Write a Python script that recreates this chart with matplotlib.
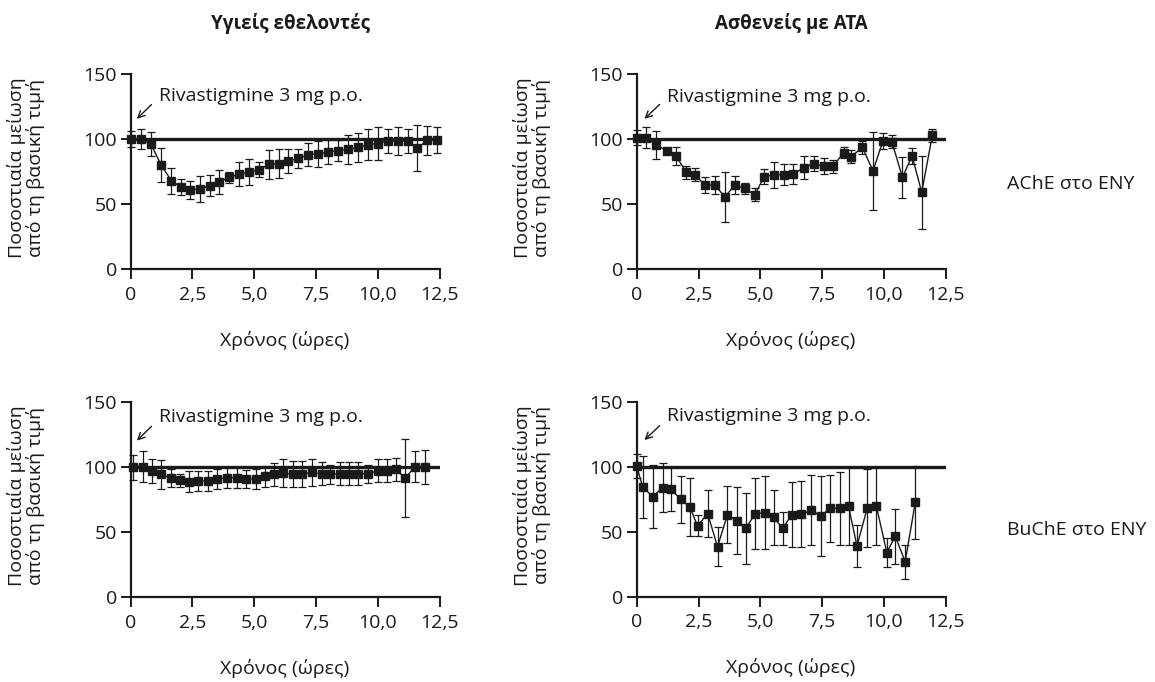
import matplotlib
matplotlib.use("Agg")
import matplotlib.pyplot as plt


# Υγιείς εθελοντές - AChE
t_healthy_ache = [0, 0.43, 0.82, 1.23, 1.64, 2.03, 2.4, 2.81, 3.19, 3.58, 3.99, 4.4, 4.8, 5.19, 5.6, 6.01,
                  6.36, 6.78, 7.19, 7.58, 7.99, 8.38, 8.8, 9.2, 9.59, 9.99, 10.4, 10.8, 11.2, 11.6, 12.0, 12.4]
v_healthy_ache = [100, 100, 96, 80, 68, 63, 61, 61.5, 64, 67, 70.5, 73, 74.5, 76.5, 80.5, 81,
                  83, 85, 88, 88.5, 90, 91, 92, 93.5, 95.5, 96.5, 98.5, 98.5, 98.5, 93, 99, 99.5]
e_healthy_ache = [6, 8, 9, 13, 10, 6, 7, 10, 8, 9, 4, 9, 10, 6, 11, 11,
                  9, 7, 9, 10, 9, 8, 11, 11, 12, 13, 9, 11, 9, 18, 11, 10]

# Ασθενείς με ΑΤΑ - AChE
t_patients_ache = [0, 0.38, 0.78, 1.21, 1.59, 2.0, 2.36, 2.76, 3.16, 3.57, 3.97, 4.37, 4.78, 5.15, 5.56, 5.95,
                   6.34, 6.76, 7.16, 7.56, 7.94, 8.37, 8.68, 9.13, 9.56, 9.96, 10.32, 10.75, 11.14, 11.53, 11.96]
v_patients_ache = [101, 101, 95.5, 91, 87, 74.5, 72.5, 64.5, 64.5, 55.5, 64.5, 62, 57, 71, 72.5, 72.5,
                   73, 78, 81, 79, 79, 89.5, 86.5, 93.5, 75.5, 98.5, 98, 70.5, 87, 59, 103]
e_patients_ache = [6, 8, 11, 1, 7, 5, 5, 6, 7, 19, 7, 4, 5, 6, 10, 8,
                   8, 9, 6, 6, 5, 4, 5, 5, 30, 6, 5, 16, 6, 28, 5]

# Υγιείς εθελοντές - BuChE
t_healthy_buche = [0.1, 0.49, 0.85, 1.23, 1.62, 2.0, 2.36, 2.73, 3.14, 3.51, 3.9, 4.3, 4.66, 5.07, 5.42, 5.8,
                   6.18, 6.57, 6.93, 7.32, 7.72, 8.08, 8.46, 8.82, 9.2, 9.61, 10.0, 10.38, 10.72, 11.1, 11.5, 11.89]
v_healthy_buche = [100, 100.5, 97, 94.5, 92, 90, 89, 89.5, 89.5, 91, 92, 92, 91, 91, 93, 94.5,
                   95.5, 94.5, 95, 96, 95, 94.5, 95, 95, 95, 95, 97.5, 97.5, 98.5, 91.5, 100.5, 100.5]
e_healthy_buche = [9.5, 12, 9, 11, 7, 5, 8, 7.5, 7.5, 7.5, 8, 8, 7, 7.5, 8, 9,
                   11, 10, 10, 10.5, 9, 7, 9, 9, 9, 7, 9, 8.5, 9, 30, 12, 13]

# Ασθενείς με ΑΤΑ - BuChE
t_patients_buche = [0, 0.24, 0.65, 1.05, 1.37, 1.78, 2.15, 2.46, 2.87, 3.27, 3.67, 4.04, 4.41, 4.8, 5.18, 5.55,
                    5.9, 6.27, 6.66, 7.07, 7.44, 7.83, 8.21, 8.57, 8.91, 9.33, 9.69, 10.12, 10.46, 10.86, 11.27]
v_patients_buche = [100.5, 84.5, 77, 84, 83, 75, 69, 54.5, 64, 38.5, 63, 58.5, 52.5, 64, 64.5, 61,
                    52.5, 63, 63.5, 66.5, 62, 68, 68, 69.5, 39, 68.5, 70, 34, 46.5, 27, 72.5]
e_patients_buche = [9.5, 24, 24, 19, 17, 18, 22, 8, 18, 15, 22, 26, 27, 27, 28, 21,
                    13, 25, 25.5, 27, 31, 26, 28, 30, 16, 30, 30, 11, 21, 13, 28]

col_titles = ["Υγιείς εθελοντές", "Ασθενείς με ΑΤΑ"]
row_labels = ["AChE στο ENY", "BuChE στο ENY"]
x_ticks = [0, 2.5, 5.0, 7.5, 10.0, 12.5]
x_tick_labels = ["0", "2,5", "5,0", "7,5", "10,0", "12,5"]
y_ticks = [0, 50, 100, 150]
ylabel = "Ποσοστιαία μείωση\nαπό τη βασική τιμή"
xlabel = "Χρόνος (ώρες)"
note = "Rivastigmine 3 mg p.o."

W, H = 1155, 682
INK = '#1a1a1a'


def fx(px):
    return px / W


def fy(py):
    return 1 - py / H


def main():
    plt.rcParams['font.family'] = ['Open Sans', 'DejaVu Sans']
    fig = plt.figure(figsize=(11.55, 6.82), dpi=100)

    panels = [
        (t_healthy_ache, v_healthy_ache, e_healthy_ache, 130.7, 269.0, (0.17, 114, 0.92, 128, 1.16, 133)),
        (t_patients_ache, v_patients_ache, e_patients_ache, 636.7, 269.0, (0.23, 114, 1.01, 128, 1.21, 132)),
        (t_healthy_buche, v_healthy_buche, e_healthy_buche, 130.7, 597.3, (0.17, 119, 0.92, 133, 1.16, 138.5)),
        (t_patients_buche, v_patients_buche, e_patients_buche, 636.7, 596.7, (0.23, 119, 1.01, 133, 1.21, 139)),
    ]
    aw, ah = 309.0, 195.0

    for t, v, e, left, bottom, ann in panels:
        ax = fig.add_axes([fx(left), fy(bottom), aw / W, ah / H])
        ax.axhline(100, color=INK, lw=2.4, zorder=1)
        ax.errorbar(t, v, yerr=e, color=INK, lw=1.0, elinewidth=0.9, capsize=3, capthick=0.9,
                    marker='s', markersize=5.2, zorder=3, clip_on=False)
        ax.set_xlim(0, 12.5)
        ax.set_ylim(0, 150)
        ax.set_xticks(x_ticks)
        ax.set_xticklabels(x_tick_labels)
        ax.set_yticks(y_ticks)
        for s in ['top', 'right']:
            ax.spines[s].set_visible(False)
        for s in ['left', 'bottom']:
            ax.spines[s].set_linewidth(1.6)
            ax.spines[s].set_color(INK)
        ax.tick_params(direction='out', length=7, width=1.4, labelsize=14, colors=INK)
        ax.tick_params(axis='x', pad=5)
        ax.tick_params(axis='y', pad=3)

        ax.annotate('', xy=(ann[0], ann[1]), xytext=(ann[2], ann[3]),
                    arrowprops=dict(arrowstyle='->', lw=1.0, color=INK, mutation_scale=12))
        ax.text(ann[4], ann[5], note, fontsize=14, va='center', ha='left', color=INK)

        fig.text(fx(left - 104.7), fy(bottom - ah / 2 - 4), ylabel, rotation=90, ha='center', va='center',
                 fontsize=14, linespacing=0.95, color=INK)
        fig.text(fx(left + aw / 2 - 1), fy(bottom + 71), xlabel, ha='center', va='center', fontsize=14,
                 color=INK)

    fig.text(fx(291), fy(23), col_titles[0], ha='center', va='center', fontsize=13.5, fontweight='bold',
             color=INK)
    fig.text(fx(791), fy(23), col_titles[1], ha='center', va='center', fontsize=13.5, fontweight='bold',
             color=INK)
    fig.text(fx(1071), fy(184), row_labels[0], ha='center', va='center', fontsize=14, color=INK)
    fig.text(fx(1077), fy(530), row_labels[1], ha='center', va='center', fontsize=14, color=INK)

    fig.savefig('out.png', dpi=100)


if __name__ == '__main__':
    main()
